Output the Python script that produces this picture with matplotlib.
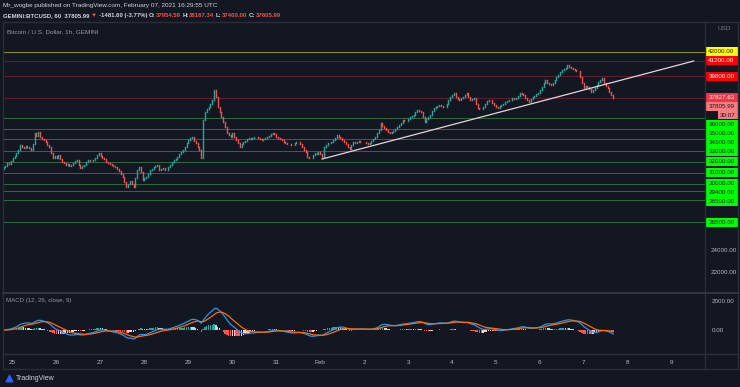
import matplotlib
matplotlib.use("Agg")
import matplotlib.pyplot as plt
from matplotlib.patches import Rectangle
import numpy as np

# GEMINI:BTCUSD hourly closes, Jan 24 19:00 -> Feb 7 16:00 UTC
close_jan24 = [31550, 31620, 31900, 31780, 32050]
close_jan25 = [32360, 32500, 32800, 33090, 33550, 33400, 33300, 33450, 33360, 33250, 33090, 33600,
               34640, 34400, 34730, 34300, 34100, 34000, 33800, 33550, 33360, 32800, 32360, 32500]
close_jan26 = [32400, 32640, 32300, 32000, 31900, 31730, 31850, 31600, 31730, 31950, 32050, 32180,
               31700, 31450, 31600, 31730, 32000, 32180, 32050, 32100, 32180, 32400, 32600, 32820]
close_jan27 = [32550, 32360, 32250, 32000, 31900, 31800, 31730, 31650, 31550, 31400, 31200, 30900,
               30640, 30200, 29730, 30000, 30300, 30000, 29730, 30500, 31270, 31550, 31100, 30360]
close_jan28 = [30500, 30640, 30900, 31270, 31400, 31550, 31600, 31730, 31270, 31350, 31450, 31300,
               31270, 31500, 31730, 32000, 32180, 32300, 32450, 32700, 32900, 33100, 33360, 33700]
close_jan29 = [34000, 34150, 34270, 33950, 33700, 33400, 33090, 32360, 35800, 36550, 36800, 37000,
               37300, 37640, 38550, 37900, 37000, 36500, 36090, 35600, 35180, 34640, 34450, 34270]
close_jan30 = [34640, 34300, 34000, 33700, 33360, 33600, 33820, 33900, 34050, 34180, 34100, 34200,
               34270, 34270, 34150, 34050, 34000, 34100, 34200, 34270, 34400, 34500, 34640, 34500]
close_jan31 = [34270, 34150, 34050, 34000, 33850, 33700, 33650, 33600, 33550, 33550, 33700, 33820,
               33820, 33600, 33360, 33100, 32900, 32450, 32400, 32360, 32600, 32820, 32750, 32900]
close_feb01 = [32700, 32450, 33360, 33500, 33700, 33750, 33820, 34000, 34200, 34450, 34300, 34180,
               34000, 33820, 33600, 33360, 33200, 33500, 33820, 33750, 33820, 33900, 33820, 33780]
close_feb02 = [33820, 33730, 33650, 33730, 33900, 34100, 34270, 34600, 34900, 35550, 35300, 35090,
               34900, 34750, 34640, 34700, 34820, 35000, 35180, 35400, 35550, 35820, 35750, 35700]
close_feb03 = [35900, 36090, 36200, 36270, 36500, 36730, 36600, 36550, 36090, 35640, 35900, 36100,
               36270, 36600, 36910, 37000, 37100, 37180, 37100, 37000, 37000, 37300, 37640, 37900]
close_feb04 = [38100, 38270, 37900, 37750, 37640, 37800, 37910, 38100, 38270, 37900, 37640, 37700,
               37820, 37300, 36910, 36850, 36800, 37000, 37270, 37500, 37640, 37640, 37400, 37180]
close_feb05 = [37000, 36910, 37050, 37180, 37300, 37450, 37500, 37600, 37640, 37820, 37750, 37820,
               38000, 38270, 38200, 38100, 37820, 37600, 37450, 37700, 37910, 38000, 38150, 38270]
close_feb06 = [38500, 38820, 39200, 39450, 39180, 39100, 39000, 39200, 39450, 39700, 39910, 40150,
               40360, 40450, 40540, 40820, 40650, 40540, 40450, 40360, 40300, 40270, 39730, 39200]
close_feb07 = [38730, 38900, 38820, 38600, 38360, 38500, 38730, 39000, 39270, 39450, 39640, 39180,
               38950, 38730, 38400, 38090, 37805.99]
first_open = 31400

day_labels = ["25", "26", "27", "28", "29", "30", "31", "Feb", "2", "3", "4", "5", "6", "7", "8", "9"]
first_midnight = 5  # index of Jan 25 00:00

support_levels = [36000, 35000, 34100, 33000, 32000, 31000, 30000, 29400, 28500, 26500]
resist_levels = [41200, 39800]
target_level = 42000
alert_level = 37827.63
countdown = "30:07"

trend_idx = [174, 377]
trend_price = [32270, 41180]

closes = np.array(close_jan24 + close_jan25 + close_jan26 + close_jan27 + close_jan28 +
                  close_jan29 + close_jan30 + close_jan31 + close_feb01 + close_feb02 +
                  close_feb03 + close_feb04 + close_feb05 + close_feb06 + close_feb07, dtype=float)
opens = np.concatenate([[first_open], closes[:-1]])
idx = np.arange(len(closes))

BG = "#131722"
GRID = "#2a2e39"
TXT = "#b2b5be"
UP, DOWN = "#26a69a", "#ef5350"
FONT = ["Liberation Sans", "DejaVu Sans"]
plt.rcParams["font.family"] = FONT

W, H = 740, 387
fig = plt.figure(figsize=(W / 100, H / 100), dpi=100, facecolor=BG)


def box(x0, y0, x1, y1):
    return [x0 / W, 1 - y1 / H, (x1 - x0) / W, (y1 - y0) / H]


xlim = (-0.3, 383.2)
ax = fig.add_axes(box(3, 23, 705, 293))
axm = fig.add_axes(box(3, 293, 705, 354))
axt = fig.add_axes(box(3, 354, 705, 369))
axp = fig.add_axes(box(705, 23, 738, 293))
axmp = fig.add_axes(box(705, 293, 738, 354))
for a in (ax, axm, axt, axp, axmp):
    a.set_facecolor(BG)
    a.set_xticks([])
    a.set_yticks([])
    for s in a.spines.values():
        s.set_visible(False)
for a in (ax, axm, axt):
    a.set_xlim(*xlim)

# --- main pane ---
ax.set_ylim(20091, 44636)
ax.axhline(target_level, color="#8a8a35", lw=0.8)
for p in resist_levels + [alert_level]:
    ax.axhline(p, color="#5c1e2c", lw=0.8)
for p in support_levels:
    ax.axhline(p, color="#2f6b40", lw=0.7)

colors = np.where(closes >= opens, UP, DOWN)
ax.vlines(idx, np.minimum(opens, closes), np.maximum(opens, closes), colors=colors,
          lw=1.0, capstyle="projecting")
ax.plot(trend_idx, trend_price, color="#e6d3dc", lw=0.9)
ax.text(0.006, 0.975, "Bitcoin / U.S. Dollar, 1h, GEMINI", transform=ax.transAxes,
        color="#9598a1", fontsize=4.6, va="top")

# --- MACD pane ---
def ema(x, n):
    a = 2 / (n + 1)
    out = np.empty_like(x)
    out[0] = x[0]
    for k in range(1, len(x)):
        out[k] = a * x[k] + (1 - a) * out[k - 1]
    return out


macd = ema(closes, 12) - ema(closes, 26)
signal = ema(macd, 9)
hist = macd - signal
prev = np.concatenate([[0], hist[:-1]])
hcol = np.where(hist >= 0, np.where(hist > prev, "#26a69a", "#b2dfdb"),
                np.where(hist < prev, "#ff5252", "#ffcdd2"))
axm.set_ylim(-1655, 2552)
axm.bar(idx, hist, width=0.75, color=hcol, lw=0)
axm.plot(idx, macd, color="#2196f3", lw=0.9)
axm.plot(idx, signal, color="#ff6d00", lw=0.9)
axm.text(0.004, 0.87, "MACD (12, 26, close, 9)", transform=axm.transAxes,
         color="#9598a1", fontsize=4.4, va="center")

# --- time axis ---
axt.set_ylim(0, 1)
for k, lab in enumerate(day_labels):
    axt.text(first_midnight + 24 * k, 0.45, lab, ha="center", va="center", color=TXT, fontsize=4.6)

# --- MACD price scale ---
axmp.set_xlim(705, 738)
axmp.set_ylim(axm.get_ylim())
for v in (2000, 0):
    axmp.text(712, v, "%.2f" % v, color=TXT, fontsize=4.5, va="center")

# --- main price scale with stacked labels ---
axp.set_xlim(705, 738)
axp.set_ylim(293, 23)


def ypx(price):
    return H - ax.transData.transform((0, price))[1]


for v in (24000, 22000):
    axp.text(711, ypx(v), "%.2f" % v, color=TXT, fontsize=4.5, va="center")
axp.text(724, 29, "USD", color="#787b86", fontsize=4.6, va="center", ha="center")

labels = [(target_level, "#ffff00", "#131722"),
          (resist_levels[0], "#ff0000", "white"),
          (resist_levels[1], "#ff0000", "white"),
          (alert_level, "#f23645", "white"),
          (closes[-1], "#f77c80", "#131722")]
labels += [(p, "#00ff00", "#131722") for p in support_levels]
lab_h = 9.0
last_y = -100
for price, fc, tc in labels:
    y = max(ypx(price), last_y + lab_h)
    axp.add_patch(Rectangle((705, y - lab_h / 2), 32.5, lab_h, facecolor=fc, edgecolor="none"))
    axp.text(721.5, y, "%.2f" % price, color=tc, fontsize=4.5, ha="center", va="center")
    last_y = y
    if price == closes[-1]:
        y += lab_h - 0.5
        axp.add_patch(Rectangle((718, y - 4), 19.5, 8, facecolor=fc, edgecolor="none"))
        axp.text(727.5, y, countdown, color=tc, fontsize=4.5, ha="center", va="center")
        last_y = y

# --- frame, header and footer drawn in pixel space ---
ov = fig.add_axes([0, 0, 1, 1])
ov.set_xlim(0, W)
ov.set_ylim(H, 0)
ov.axis("off")
ov.patch.set_visible(False)
frame = dict(color=GRID, lw=1)
ov.plot([3, 738, 738, 3, 3], [22, 22, 369, 369, 22], **frame)
ov.plot([705, 705], [22, 369], **frame)
ov.plot([3, 738], [293, 293], color="#363a45", lw=1.2)
ov.plot([3, 738], [354, 354], **frame)

ov.text(3, 6, "Mr_wogbe published on TradingView.com, February 07, 2021 16:29:55 UTC",
        color="#d1d4dc", fontsize=4.6, va="center")
parts = [("GEMINI:BTCUSD, 60  37805.99", "#d1d4dc", 0), ("\u25bc", DOWN, 1.2),
         ("-1481.60 (-3.77%)", "#d1d4dc", 1.2), ("O:", "#d1d4dc", 1.2), ("37954.59", DOWN, 0.2),
         ("H:", "#d1d4dc", 1.2), ("38167.34", DOWN, 0.2), ("L:", "#d1d4dc", 1.2),
         ("37400.00", DOWN, 0.2), ("C:", "#d1d4dc", 1.2), ("37805.99", DOWN, 0.2)]
prev_t = None
for s, c, gap in parts:
    if prev_t is None:
        prev_t = ov.text(3, 15.5, s, color=c, fontsize=4.3, va="center", fontweight="bold")
    else:
        prev_t = ov.annotate(s, xy=(1, 0.5), xycoords=prev_t, xytext=(gap, 0),
                             textcoords="offset points", color=c, fontsize=4.3,
                             va="center", fontweight="bold")

ov.scatter([9], [378], s=22, marker="^", color="#2962ff")
ov.text(16, 378, "TradingView", color="#d1d4dc", fontsize=5, va="center")

fig.savefig("out.png", dpi=100, facecolor=BG)
